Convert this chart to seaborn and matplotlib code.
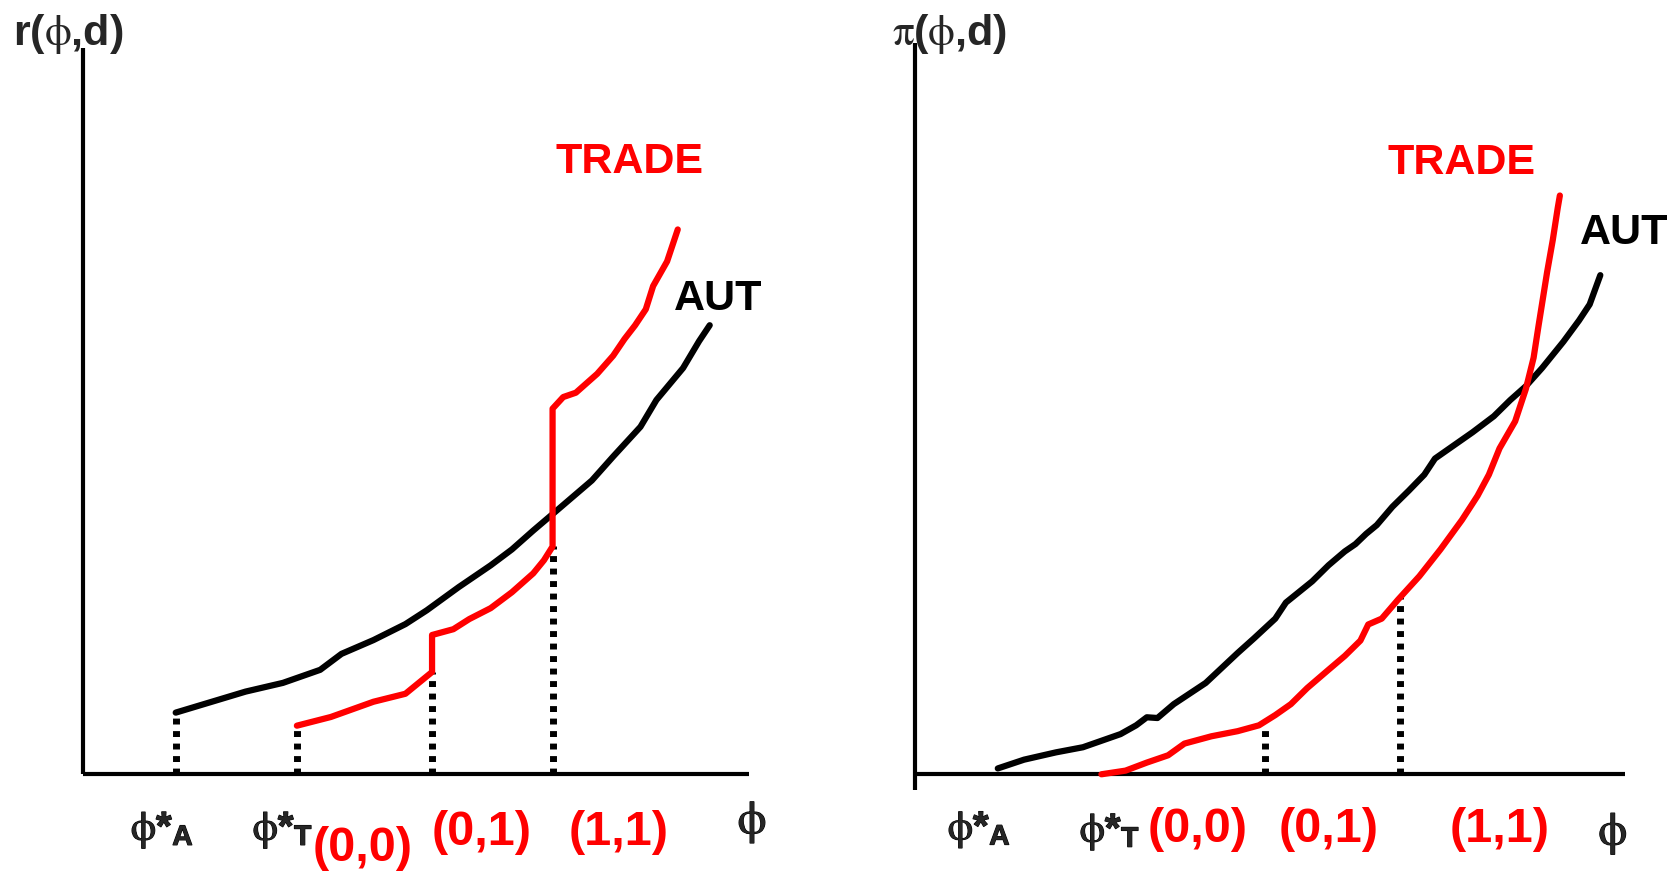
import matplotlib
matplotlib.use("Agg")
import matplotlib.pyplot as plt
import matplotlib.patheffects as pe
import seaborn as sns

sns.set_style("white")
plt.rcParams["font.family"] = ["Liberation Sans", "DejaVu Sans"]
plt.rcParams["mathtext.fontset"] = "stix"

# ---- Revenue panel r(phi, d) ----
rev_aut_phi = [13.9, 24.4, 30.0, 35.6, 38.8, 43.6, 48.4, 51.6, 56.4, 61.2, 64.4, 67.6,
               70.8, 76.4, 79.6, 83.7, 86.1, 90.1, 92.5, 94.1]
rev_aut_r = [8.4, 11.3, 12.5, 14.3, 16.5, 18.4, 20.6, 22.5, 25.7, 28.7, 30.9, 33.5,
             36.0, 40.4, 43.7, 47.8, 51.5, 55.9, 59.6, 61.8]

rev_trade_phi = [32.1, 37.2, 43.6, 48.4, 52.4, 52.4, 55.6, 58.0, 61.2, 64.4, 67.6, 69.2,
                 70.5, 70.5, 72.1, 74.0, 77.2, 79.6, 81.3, 82.9, 84.5, 85.6, 87.7, 89.3]
rev_trade_r = [6.6, 7.8, 9.9, 11.0, 14.0, 19.1, 19.9, 21.3, 22.8, 25.0, 27.6, 29.4,
               31.3, 50.3, 51.9, 52.5, 55.1, 57.6, 59.9, 61.8, 64.0, 67.2, 70.6, 75.0]

rev_cut_phi = [13.9, 32.1, 52.4, 70.5]
rev_cut_top = [8.4, 6.6, 14.0, 31.3]

# ---- Profit panel pi(phi, d) ----
pro_aut_phi = [11.6, 15.3, 19.8, 23.6, 28.9, 31.1, 32.6, 34.1, 36.4, 40.9, 45.4, 47.7,
               50.7, 52.2, 55.9, 58.2, 60.5, 62.0, 63.5, 65.0, 67.2, 69.5, 71.7, 73.2,
               78.5, 81.5, 83.8, 86.0, 88.3, 91.3, 93.5, 95.0, 96.5]
pro_aut_pi = [0.7, 1.9, 2.9, 3.6, 5.4, 6.6, 7.7, 7.6, 9.5, 12.4, 16.5, 18.5,
              21.2, 23.4, 26.3, 28.5, 30.4, 31.4, 32.8, 34.0, 36.5, 38.7, 40.9, 43.1,
              46.7, 48.9, 51.1, 53.0, 55.5, 59.1, 62.0, 64.2, 68.2]

pro_trade_phi = [26.2, 29.6, 32.6, 35.6, 37.9, 41.7, 45.4, 48.4, 50.7, 52.9, 55.2, 58.2,
                 60.5, 62.7, 63.8, 65.7, 68.0, 71.0, 74.0, 77.0, 79.2, 80.8, 82.3, 84.5,
                 86.0, 87.1, 87.8, 89.0, 89.8, 90.5, 90.8]
pro_trade_pi = [-0.1, 0.4, 1.5, 2.5, 4.1, 5.1, 5.8, 6.6, 8.0, 9.5, 11.7, 14.2,
                16.1, 18.2, 20.4, 21.2, 23.8, 27.0, 30.7, 34.7, 38.0, 40.9, 44.5, 48.2,
                52.6, 56.9, 61.3, 68.6, 73.0, 77.4, 79.1]

pro_cut_phi = [49.2, 68.3]
pro_cut_top = [6.3, 24.1]

regimes = ["(0,0)", "(0,1)", "(1,1)"]

fig = plt.figure(figsize=(16.73, 8.73), dpi=100)
ax1 = fig.add_axes([0.0497, 0.1139, 0.398, 0.831])
ax2 = fig.add_axes([0.5472, 0.0955, 0.4242, 0.8555])

RED = "#ff0000"
LW = 4.5


def draw_panel(ax, aut_x, aut_y, tr_x, tr_y, cut_x, cut_top, ymin):
    ax.set_xlim(0, 100)
    ax.set_ylim(ymin, 100)
    for s in ax.spines.values():
        s.set_visible(False)
    ax.set_xticks([])
    ax.set_yticks([])
    ax.axvline(0, color="black", lw=3.0, solid_capstyle="butt", clip_on=False)
    ax.axhline(0, color="black", lw=3.0, solid_capstyle="butt", clip_on=False)
    ax.vlines(cut_x, 0, cut_top, colors="black", lw=5.0,
              linestyles=(0, (0.85, 0.95)))
    sns.lineplot(x=aut_x, y=aut_y, sort=False, estimator=None, ax=ax,
                 color="black", lw=LW)
    sns.lineplot(x=tr_x, y=tr_y, sort=False, estimator=None, ax=ax,
                 color=RED, lw=LW)


draw_panel(ax1, rev_aut_phi, rev_aut_r, rev_trade_phi, rev_trade_r,
           rev_cut_phi, rev_cut_top, 0)
draw_panel(ax2, pro_aut_phi, pro_aut_pi, pro_trade_phi, pro_trade_pi,
           pro_cut_phi, pro_cut_top, -2.2)

bold = dict(fontweight="bold", clip_on=False)
heavy = [pe.withStroke(linewidth=0.8, foreground="black")]
BIG = 31
REG = 35
PHI = 29

phi = r"$\mathrm{\phi}$"
lab_a = phi + r"*$_\mathregular{A}$"
lab_t = phi + r"*$_\mathregular{T}$"

# Left panel labels
ax1.text(-10.6, 102, "r(" + phi + ",d)", fontsize=BIG, ha="left", va="center", **bold)
ax1.text(82.1, 84.3, "TRADE", color=RED, fontsize=BIG, ha="center", va="center", **bold)
ax1.text(95.4, 65.4, "AUT", color="black", fontsize=BIG, ha="center", va="center", **bold)
ax1.text(11.9, -7.8, lab_a, fontsize=PHI, ha="center", va="center",
         path_effects=heavy, **bold)
ax1.text(30.0, -7.8, lab_t, fontsize=PHI, ha="center", va="center",
         path_effects=heavy, **bold)
ax1.text(100.5, -6.8, phi, fontsize=PHI + 4, ha="center", va="center", clip_on=False,
         path_effects=heavy)
for lab, x, y in zip(regimes, [42.0, 59.9, 80.4], [-10.3, -8.1, -8.1]):
    ax1.text(x, y, lab, color=RED, fontsize=REG, ha="center", va="center", **bold)

# Right panel labels
ax2.text(-3.3, 101.2, r"$\mathrm{\pi}$(" + phi + ",d)", fontsize=BIG, ha="left",
         va="center", **bold)
ax2.text(77.0, 83.6, "TRADE", color=RED, fontsize=BIG, ha="center", va="center", **bold)
ax2.text(99.8, 74.0, "AUT", color="black", fontsize=BIG, ha="center", va="center", **bold)
ax2.text(9.0, -7.7, lab_a, fontsize=PHI, ha="center", va="center",
         path_effects=heavy, **bold)
ax2.text(27.4, -8.0, lab_t, fontsize=PHI, ha="center", va="center",
         path_effects=heavy, **bold)
ax2.text(98.3, -8.3, phi, fontsize=PHI + 4, ha="center", va="center", clip_on=False,
         path_effects=heavy)
for lab, x in zip(regimes, [39.7, 58.2, 82.3]):
    ax2.text(x, -7.7, lab, color=RED, fontsize=REG, ha="center", va="center", **bold)

fig.savefig("out.png", dpi=100, facecolor="white")
